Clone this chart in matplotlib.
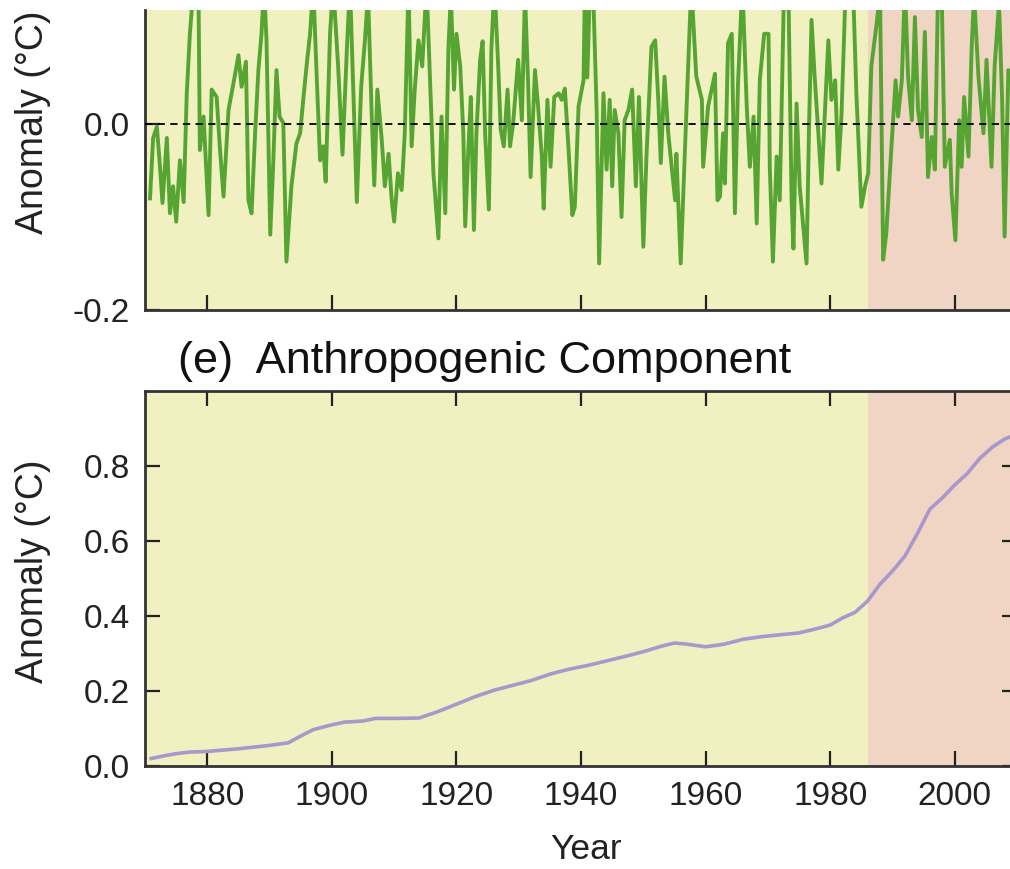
#! /usr/bin/env python
""" Residual and anthropogenic components of the temperature record. """

import matplotlib
matplotlib.use('Agg')  # no display
import matplotlib.pyplot as plt
from matplotlib.ticker import FormatStrFormatter

# (d) residual variability, top is clipped
resid_years = [
    1870.8, 1871.3, 1871.9, 1872.4, 1872.8, 1873.5, 1874.0, 1874.5, 1875.0, 1875.6,
    1876.2, 1876.7, 1877.2, 1877.7, 1878.1, 1878.6, 1878.8, 1879.4, 1880.2, 1880.7,
    1881.5, 1882.0, 1882.6, 1883.4, 1884.2, 1885.0, 1885.5, 1886.2, 1886.6, 1887.1,
    1887.7, 1888.2, 1888.7, 1889.1, 1889.5, 1890.1, 1890.6, 1891.1, 1891.6, 1892.2,
    1892.7, 1893.5, 1894.3, 1894.9, 1895.4, 1896.0, 1896.5, 1897.0, 1897.6, 1898.1,
    1898.6, 1899.0, 1899.7, 1900.2, 1901.0, 1901.7, 1902.4, 1902.9, 1903.4, 1904.0,
    1904.7, 1905.3, 1905.8, 1906.4, 1906.8, 1907.3, 1908.0, 1908.5, 1909.1, 1909.6,
    1910.0, 1910.6, 1911.2, 1911.7, 1912.3, 1912.8, 1913.3, 1913.9, 1914.5, 1915.2,
    1916.0, 1916.3, 1917.1, 1917.6, 1918.2, 1918.7, 1919.1, 1919.6, 1920.0, 1920.6,
    1921.1, 1921.4, 1921.9, 1922.3, 1922.8, 1923.2, 1923.8, 1924.2, 1924.6, 1925.2,
    1925.6, 1926.1, 1926.7, 1927.1, 1927.6, 1928.2, 1928.6, 1929.1, 1929.9, 1930.5,
    1931.0, 1931.5, 1931.9, 1932.6, 1933.1, 1933.7, 1934.0, 1934.6, 1935.1, 1935.7,
    1936.4, 1936.9, 1937.4, 1938.0, 1938.6, 1939.0, 1939.6, 1940.4, 1940.6, 1941.0,
    1941.4, 1942.0, 1942.5, 1942.9, 1943.6, 1944.1, 1944.6, 1945.0, 1945.4, 1946.0,
    1946.5, 1947.0, 1947.6, 1948.2, 1948.8, 1949.3, 1950.0, 1950.5, 1951.3, 1951.9,
    1952.4, 1952.8, 1953.4, 1954.0, 1955.1, 1955.3, 1956.0, 1956.7, 1957.2, 1957.7,
    1958.5, 1959.4, 1959.6, 1960.4, 1961.5, 1961.9, 1962.3, 1962.8, 1963.1, 1963.6,
    1964.2, 1964.7, 1965.2, 1965.9, 1966.6, 1967.1, 1967.7, 1968.2, 1968.7, 1969.4,
    1970.1, 1970.3, 1970.8, 1971.4, 1971.9, 1972.6, 1973.3, 1973.8, 1974.1, 1974.6,
    1975.1, 1976.2, 1976.6, 1977.0, 1977.5, 1978.1, 1978.6, 1979.2, 1979.7, 1980.2,
    1980.8, 1981.3, 1981.8, 1982.5, 1983.7, 1984.2, 1985.0, 1985.6, 1986.1, 1986.6,
    1987.4, 1988.0, 1988.5, 1989.0, 1989.9, 1990.5, 1990.9, 1991.5, 1992.0, 1992.5,
    1993.1, 1993.6, 1994.1, 1994.7, 1995.2, 1995.7, 1996.3, 1996.8, 1997.3, 1997.9,
    1998.4, 1999.2, 1999.5, 2000.1, 2000.7, 2001.1, 2001.5, 2002.2, 2002.7, 2003.1,
    2003.8, 2004.6, 2005.1, 2005.9, 2006.4, 2007.1, 2007.6, 2008.0, 2008.6, 2008.8]
resid_values = [
    -0.080, -0.015, -0.003, -0.046, -0.085, -0.015, -0.096, -0.067, -0.105, -0.039,
    -0.084, 0.033, 0.097, 0.140, 0.160, 0.130, -0.028, 0.008, -0.098, 0.037,
    0.029, -0.024, -0.078, 0.015, 0.044, 0.074, 0.040, 0.067, -0.082, -0.096,
    -0.006, 0.058, 0.097, 0.150, 0.090, -0.119, -0.039, 0.058, 0.008, 0.001,
    -0.148, -0.067, -0.021, -0.010, 0.026, 0.067, 0.097, 0.150, 0.044, -0.039,
    -0.024, -0.062, 0.097, 0.150, 0.062, -0.033, 0.080, 0.150, 0.044, -0.084,
    0.040, 0.090, 0.140, 0.008, -0.066, 0.037, -0.017, -0.067, -0.032, -0.082,
    -0.105, -0.053, -0.071, -0.010, 0.150, -0.024, 0.037, 0.090, 0.062, 0.150,
    0.001, -0.053, -0.123, 0.008, -0.096, 0.080, 0.140, 0.037, 0.097, 0.062,
    -0.010, -0.110, -0.028, 0.029, -0.114, -0.010, 0.069, 0.089, -0.010, -0.092,
    0.080, 0.150, 0.062, -0.006, -0.024, 0.037, -0.024, 0.001, 0.069, 0.004,
    0.140, 0.044, -0.057, 0.058, 0.019, -0.035, -0.091, 0.026, -0.046, 0.029,
    0.033, 0.026, 0.038, -0.028, -0.098, -0.089, 0.019, 0.047, 0.140, 0.050,
    0.140, 0.130, 0.015, -0.150, 0.033, -0.049, 0.026, -0.067, 0.015, -0.010,
    -0.100, 0.004, 0.015, 0.037, -0.067, 0.029, -0.132, -0.035, 0.083, 0.090,
    0.026, -0.042, 0.051, -0.010, -0.082, -0.032, -0.150, -0.024, 0.062, 0.150,
    0.051, 0.026, -0.046, 0.019, 0.054, -0.082, -0.078, -0.010, -0.064, 0.087,
    0.097, -0.096, 0.044, 0.150, 0.019, -0.046, 0.008, -0.107, 0.047, 0.097,
    0.097, -0.046, -0.148, -0.035, -0.082, 0.150, 0.140, -0.082, -0.134, 0.022,
    -0.067, -0.150, -0.003, 0.112, 0.051, -0.010, -0.064, 0.019, 0.090, 0.026,
    0.047, -0.049, 0.008, 0.150, 0.140, 0.033, -0.089, -0.067, -0.053, 0.062,
    0.105, 0.140, -0.146, -0.118, -0.017, 0.047, 0.008, 0.047, 0.150, 0.051,
    0.004, 0.115, 0.015, -0.014, 0.099, -0.057, -0.014, -0.049, 0.140, 0.140,
    -0.046, -0.017, -0.075, -0.125, 0.004, -0.046, 0.029, -0.035, 0.080, 0.140,
    0.051, -0.010, 0.069, -0.046, 0.062, 0.130, 0.026, -0.121, 0.058, 0.055]

# (e) anthropogenic component
anthro_years = [1871, 1873, 1875, 1877, 1880, 1885, 1890, 1893, 1895, 1897,
                1900, 1902, 1905, 1907, 1910, 1914, 1917, 1920, 1923, 1926,
                1929, 1932, 1935, 1938, 1941, 1944, 1947, 1950, 1953, 1955,
                1957, 1960, 1963, 1966, 1969, 1972, 1975, 1978, 1980, 1982,
                1984, 1986, 1988, 1990, 1992, 1994, 1996, 1998, 2000, 2002,
                2004, 2006, 2008, 2010]
anthro_values = [0.020, 0.027, 0.033, 0.037, 0.039, 0.046, 0.055, 0.062, 0.080, 0.097,
                 0.110, 0.117, 0.120, 0.127, 0.127, 0.128, 0.145, 0.165, 0.185, 0.202,
                 0.215, 0.228, 0.245, 0.258, 0.268, 0.280, 0.292, 0.305, 0.320, 0.328,
                 0.325, 0.318, 0.325, 0.338, 0.345, 0.350, 0.355, 0.367, 0.376, 0.395,
                 0.410, 0.440, 0.485, 0.520, 0.560, 0.620, 0.685, 0.715, 0.750, 0.780,
                 0.820, 0.850, 0.872, 0.885]

x_ticks = [1880, 1900, 1920, 1940, 1960, 1980, 2000]
split_year = 1986

YELLOW = '#F1F0C0'
PINK = '#F0D5C4'
GREEN = '#56A532'
PURPLE = '#A898CC'
SPINE = '#333333'


def shade(ax):
    """ Background bands before and after the split year. """
    ax.axvspan(1870, split_year, color=YELLOW, lw=0, zorder=0)
    ax.axvspan(split_year, 2010, color=PINK, lw=0, zorder=0)
    ax.set_xlim(1870, 2010)
    ax.set_xticks(x_ticks)
    for sp in ax.spines.values():
        sp.set_color(SPINE)
        sp.set_linewidth(2.0)
    ax.tick_params(direction='in', length=11, width=1.6, color='#222222',
                   labelsize=24, labelcolor='#222222', pad=11)


def main():
    plt.rcParams['font.family'] = ['Liberation Sans', 'DejaVu Sans']
    plt.rcParams['axes.unicode_minus'] = False

    fig = plt.figure(figsize=(10.1, 8.69), dpi=100)

    # Top panel, cropped at the top edge of the figure
    ax1 = fig.add_axes([0.1436, 0.6433, 0.8634, 0.3452])
    shade(ax1)
    ax1.plot(resid_years, resid_values, color=GREEN, lw=2.8, zorder=3)
    ax1.axhline(0.0, color='black', lw=1.3, ls=(0, (4, 3)), zorder=4)
    ax1.set_ylim(-0.2, 0.1226)
    ax1.set_yticks([-0.2, 0.0])
    ax1.yaxis.set_major_formatter(FormatStrFormatter('%.1f'))
    ax1.spines['top'].set_visible(False)
    ax1.tick_params(axis='x', labelbottom=False)
    ax1.set_ylabel('Anomaly (°C)', fontsize=27, color='#222222')
    ax1.yaxis.set_label_coords(-0.108, 0.627)

    # Bottom panel
    ax2 = fig.add_axes([0.1436, 0.1185, 0.8634, 0.4315])
    shade(ax2)
    ax2.plot(anthro_years, anthro_values, color=PURPLE, lw=2.6, zorder=3)
    ax2.set_ylim(0.0, 1.0)
    ax2.set_yticks([0.0, 0.2, 0.4, 0.6, 0.8])
    ax2.yaxis.set_major_formatter(FormatStrFormatter('%.1f'))
    ax2.tick_params(top=True, right=True)
    ax2.set_ylabel('Anomaly (°C)', fontsize=27, color='#222222')
    ax2.yaxis.set_label_coords(-0.108, 0.52)
    ax2.set_xlabel('Year', fontsize=25.5, color='#222222')
    ax2.xaxis.set_label_coords(0.506, -0.178)
    ax2.text(0.038, 1.048, '(e)  Anthropogenic Component', transform=ax2.transAxes,
             fontsize=32.5, color='#111111', ha='left', va='baseline')

    fig.savefig('out.png', dpi=100)


if __name__ == '__main__':
    main()
